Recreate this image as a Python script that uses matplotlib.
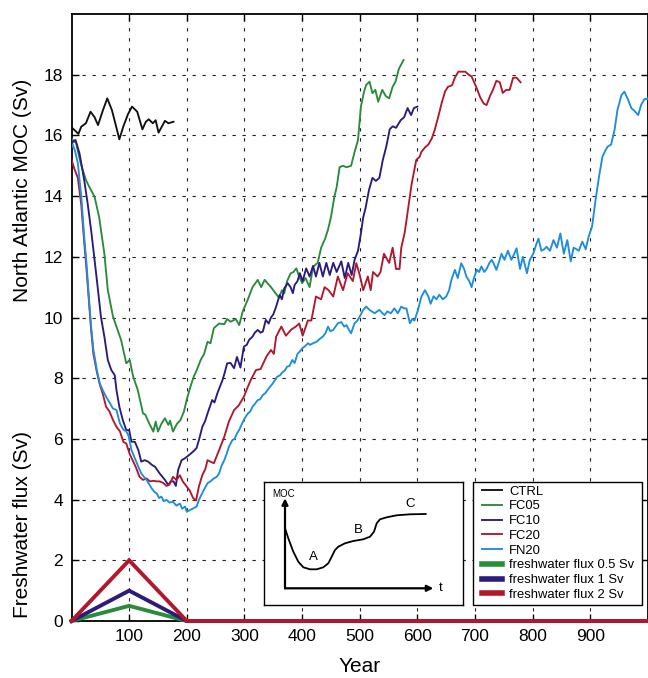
import matplotlib
matplotlib.use("Agg")
import matplotlib.pyplot as plt
from matplotlib.patches import Rectangle

plt.rcParams['font.family'] = ['Liberation Sans', 'DejaVu Sans']

# ---------------- MOC time series (Sv) ----------------
ctrl_year = [0, 12, 17, 25, 33, 40, 46, 54, 62, 70, 76, 83, 90, 98, 105, 114, 123, 129, 134, 141, 146, 151, 157, 162, 168, 177]
ctrl_moc = [16.27, 16.05, 16.29, 16.4, 16.78, 16.6, 16.34, 16.8, 17.22, 16.84, 16.4, 15.87, 16.3, 16.7, 16.95, 16.78, 16.2, 16.45, 16.53, 16.4, 16.5, 16.09, 16.3, 16.48, 16.4, 16.45]

fc05_year = [0, 8, 16, 25, 31, 40, 48, 57, 63, 72, 80, 86, 95, 101, 107, 115, 124, 128, 135, 142, 146, 150, 156, 162, 168, 171, 176, 183, 189, 195,
             200, 206, 212, 218, 224, 230, 236, 241, 247, 256, 265, 270, 276, 285, 291, 297, 306, 314, 323, 329, 335, 340, 346, 352, 360, 365,
             369, 374, 380, 385, 390, 395, 400, 406, 413, 419, 427, 433, 440, 445, 450, 456, 460, 465, 471, 477, 485, 491, 497, 502, 507, 511,
             517, 522, 527, 532, 539, 545, 551, 557, 562, 568, 576]
fc05_moc = [15.9, 15.74, 15.08, 14.53, 14.3, 13.98, 13.3, 12.1, 10.9, 10.03, 9.59, 9.26, 8.49, 8.6, 8.05, 7.61, 6.84, 6.8, 6.5, 6.24, 6.57, 6.24, 6.5, 6.68, 6.46, 6.6, 6.24, 6.5, 6.62, 6.9,
            7.3, 7.7, 8.05, 8.3, 8.6, 8.8, 9.2, 9.15, 9.65, 9.8, 9.78, 9.95, 9.86, 9.95, 9.75, 10.2, 10.6, 11.0, 11.24, 11.0, 11.24, 11.13, 11.0, 10.85, 10.65, 10.9,
            10.8, 11.2, 11.45, 11.5, 11.62, 11.35, 11.13, 11.3, 11.0, 11.67, 11.8, 12.3, 12.6, 12.9, 13.3, 13.98, 14.3, 14.95, 15.0, 14.95, 15.0, 15.45, 15.85, 16.95, 17.4, 17.66,
            17.77, 17.39, 17.5, 17.11, 17.5, 17.3, 17.22, 17.6, 17.77, 18.2, 18.48]

fc10_year = [0, 3, 7, 14, 22, 28, 34, 40, 46, 51, 57, 63, 69, 75, 78, 83, 89, 95, 100, 104, 110, 116, 121, 127, 133, 139, 145, 153, 162, 168, 172, 177, 181,
             185, 191, 196, 200, 206, 212, 217, 221, 227, 232, 236, 244, 248, 253, 257, 262, 266, 270, 276, 282, 287, 293, 299, 304, 308, 314, 318, 323,
             328, 332, 337, 342, 346, 350, 355, 361, 365, 369, 375, 380, 384, 387, 392, 396, 401, 407, 413, 419, 424, 430, 436, 442, 448, 454, 460,
             468, 474, 480, 486, 491, 497, 502, 506, 510, 516, 522, 528, 534, 540, 546, 552, 557, 563, 571, 577, 583, 589, 594, 600]
fc10_moc = [15.7, 15.8, 15.85, 15.4, 14.53, 13.76, 12.88, 11.9, 10.9, 10.03, 9.37, 8.6, 8.27, 8.1, 7.61, 7.06, 6.62, 6.29, 6.29, 5.91, 5.9, 5.63, 5.25, 5.3, 5.25, 5.15, 5.08, 4.86, 4.65, 4.48, 4.6, 4.6, 4.45,
            4.98, 5.3, 5.35, 5.41, 5.5, 5.6, 5.7, 5.96, 6.4, 6.6, 6.84, 7.28, 7.2, 7.5, 7.7, 7.94, 8.2, 8.49, 8.5, 8.33, 8.7, 8.35, 9.04, 9.1, 9.26, 9.37, 9.5, 9.59,
            9.5, 9.54, 9.92, 9.8, 10.0, 10.1, 10.36, 10.74, 10.6, 10.96, 11.13, 11.0, 10.8, 11.07, 11.2, 11.46, 11.2, 11.62, 11.35, 11.7, 11.35, 11.8, 11.35, 11.8, 11.4, 11.8, 11.5,
            11.85, 11.3, 11.8, 11.4, 11.9, 12.2, 12.77, 13.3, 13.6, 14.2, 14.6, 14.5, 14.6, 15.19, 15.63, 16.2, 16.3, 16.25, 16.5, 16.6, 16.9, 16.67, 16.9, 16.95]

fc20_year = [0, 5, 11, 17, 22, 26, 30, 34, 38, 44, 49, 54, 60, 66, 72, 78, 84, 90, 95, 101, 106, 112, 118, 124, 130, 136, 142, 148, 153, 159, 165, 170, 176, 182,
             188, 193, 199, 205, 211, 216, 221, 227, 232, 236, 241, 247, 256, 265, 273, 282, 290, 299, 306, 311, 320, 328, 338, 346, 351, 355, 364,
             372, 381, 389, 395, 401, 410, 416, 424, 433, 439, 446, 454, 462, 471, 479, 488, 494, 500, 506, 514, 519, 523, 531, 536, 542, 551, 557,
             563, 569, 572, 578, 584, 590, 598, 604, 607, 613, 619, 625, 630, 636, 642, 648, 653, 660, 665, 671, 677, 683, 689, 694, 702, 709,
             715, 720, 726, 731, 737, 743, 748, 754, 760, 766, 772, 779]
fc20_moc = [15.2, 14.9, 14.6, 13.7, 12.5, 11.6, 10.6, 9.6, 8.8, 8.2, 7.8, 7.5, 7.06, 6.9, 6.62, 6.4, 6.25, 5.9, 5.85, 5.5, 5.3, 5.05, 4.75, 4.65, 4.7, 4.6, 4.62, 4.6, 4.6, 4.55, 4.45, 4.5, 4.75, 4.65,
            4.8, 4.6, 4.45, 4.3, 4.05, 3.97, 4.43, 4.81, 5.0, 5.3, 5.25, 5.2, 5.63, 6.07, 6.57, 6.95, 7.1, 7.39, 7.72, 7.94, 8.27, 8.3, 8.71, 8.93, 8.8, 9.37, 9.7,
            9.4, 9.6, 9.7, 9.8, 9.4, 9.9, 9.9, 10.69, 10.6, 11.0, 10.9, 10.69, 11.35, 10.9, 11.46, 11.2, 11.79, 11.4, 10.9, 11.35, 10.9, 11.5, 11.35, 11.5, 12.1, 11.8, 12.3,
            11.6, 11.6, 12.3, 12.8, 13.6, 14.4, 15.19, 15.3, 15.46, 15.6, 15.7, 15.9, 16.18, 16.6, 17.06, 17.45, 17.6, 17.65, 17.9, 18.1, 18.1, 18.1, 18.0, 17.94, 17.6, 17.25,
            17.05, 17.0, 17.3, 17.5, 17.8, 17.75, 17.4, 17.5, 17.5, 17.9, 17.9, 17.75]

fn20_year = [0, 2, 6, 11, 17, 22, 26, 30, 34, 38, 44, 49, 54, 60, 66, 72, 78, 84, 90, 95, 99, 104, 110, 116, 121, 130, 135, 139, 144, 148, 152, 156, 160, 165,
             170, 176, 182, 188, 192, 197, 200, 206, 211, 217, 221, 229, 236, 241, 247, 252, 256, 260, 265, 269, 273, 279, 283, 287, 291, 296, 301,
             306, 310, 314, 318, 323, 327, 332, 336, 340, 348, 357, 362, 366, 370, 374, 378, 383, 387, 392, 397, 401, 405, 410, 414, 419, 425, 431,
             436, 441, 445, 449, 454, 458, 462, 468, 473, 477, 481, 485, 491, 496, 500, 506, 511, 517, 521, 526, 530, 534, 539, 543, 548, 554, 560,
             566, 572, 577, 581, 587, 591, 595, 601, 607, 613, 619, 623, 628, 633, 638, 644, 650, 655, 659, 665, 670, 676, 681, 685, 690, 694, 698,
             703, 707, 711, 716, 720, 725, 729, 733, 737, 741, 746, 751, 757, 763, 768, 772, 778, 783, 790, 795, 801, 806, 810, 815, 820, 824, 830,
             836, 842, 848, 854, 860, 866, 871, 876, 880, 886, 892, 897, 903, 909, 915, 921, 926, 930, 936, 942, 947, 954, 959, 965, 971, 977, 983,
             988, 994, 1000, 1006]
fn20_moc = [15.6, 15.7, 15.5, 15.08, 13.98, 12.66, 11.79, 10.69, 9.7, 8.93, 8.27, 7.83, 7.61, 7.39, 7.2, 7.0, 6.95, 6.51, 6.3, 6.25, 6.1, 5.63, 5.36, 5.08, 4.86, 4.65, 4.5, 4.37, 4.25, 4.2, 4.05, 4.1, 3.95, 3.99,
            3.9, 3.93, 3.8, 3.87, 3.7, 3.77, 3.6, 3.66, 3.71, 3.77, 3.99, 4.3, 4.54, 4.6, 4.7, 4.75, 4.86, 5.1, 5.3, 5.5, 5.74, 5.96, 6.0, 6.18, 6.3, 6.51, 6.7,
            6.84, 6.9, 7.06, 7.15, 7.28, 7.3, 7.45, 7.5, 7.61, 7.8, 8.05, 8.1, 8.2, 8.25, 8.38, 8.4, 8.6, 8.5, 8.8, 8.9, 9.0, 9.05, 9.15, 9.1, 9.15, 9.2, 9.3,
            9.37, 9.5, 9.7, 9.55, 9.59, 9.7, 9.81, 9.85, 9.7, 9.75, 9.6, 9.48, 9.81, 9.9, 10.03, 10.25, 10.36, 10.25, 10.2, 10.14, 10.2, 10.25, 10.15, 10.08, 10.2, 10.14, 10.3,
            10.14, 10.36, 10.3, 10.3, 9.81, 9.95, 9.9, 10.25, 10.69, 10.9, 10.69, 10.45, 10.7, 10.6, 10.75, 10.6, 10.69, 10.9, 11.24, 11.57, 11.3, 11.79, 11.6, 11.35, 11.2, 11.0, 11.3,
            11.57, 11.5, 11.68, 11.5, 11.6, 11.8, 11.9, 11.75, 11.57, 11.8, 12.1, 11.9, 12.2, 11.9, 12.1, 12.28, 11.6, 12.0, 11.46, 11.9, 12.1, 12.4, 12.6, 12.2, 12.25, 12.33, 12.2,
            12.55, 12.3, 12.77, 12.1, 12.55, 11.85, 12.3, 12.25, 12.2, 12.5, 12.25, 12.66, 13.0, 13.87, 14.64, 15.3, 15.5, 15.63, 15.7, 16.18, 16.84, 17.33, 17.44, 17.2, 16.9, 16.8, 16.67,
            17.0, 17.2, 17.2, 17.6]

# ---------------- Freshwater forcing (Sv) ----------------
flux_year = [0, 100, 200, 1000]
flux_05 = [0, 0.5, 0, 0]
flux_1 = [0, 1.0, 0, 0]
flux_2 = [0, 2.0, 0, 0]

# ---------------- Schematic of the MOC recovery (arbitrary units) ----------------
sketch_t = [0, 0.33, 0.83, 1.33, 1.83, 2.5, 3.17, 3.83, 4.33, 4.67, 5.0, 5.33, 6.0, 6.83, 7.83, 8.5, 8.9, 9.17, 9.5, 10.17, 11.17, 12.5, 14.07]
sketch_moc = [6.0, 5.0, 3.66, 2.66, 2.1, 1.9, 1.9, 2.1, 2.5, 3.16, 3.83, 4.16, 4.5, 4.73, 4.9, 5.16, 5.66, 6.5, 6.9, 7.1, 7.3, 7.4, 7.43]
phase_labels = ['A', 'B', 'C']
phase_t = [2.83, 7.33, 12.5]
phase_moc = [3.1, 5.83, 8.43]

x_ticks = [100, 200, 300, 400, 500, 600, 700, 800, 900]
y_ticks = [0, 2, 4, 6, 8, 10, 12, 14, 16, 18]

C_CTRL = '#111111'
C_05 = '#2a8b3b'
C_10 = '#2b1b7c'
C_20 = '#b2182b'
C_N20 = '#1e8ddb'

W, H = 648, 678
fig = plt.figure(figsize=(W / 100, H / 100), dpi=100)
ax = fig.add_axes([71.5 / W, 1 - 621 / H, 576.5 / W, 607 / H])

lw = 1.35
ax.plot(ctrl_year, ctrl_moc, color=C_CTRL, lw=lw, label='CTRL', zorder=3)
ax.plot(fc05_year, fc05_moc, color=C_05, lw=lw, label='FC05', zorder=3)
ax.plot(fc10_year, fc10_moc, color=C_10, lw=lw, label='FC10', zorder=3)
ax.plot(fc20_year, fc20_moc, color=C_20, lw=lw, label='FC20', zorder=3)
ax.plot(fn20_year, fn20_moc, color=C_N20, lw=lw, label='FN20', zorder=3)

flw = 2.8
ax.plot(flux_year, flux_05, color=C_05, lw=flw, label='freshwater flux 0.5 Sv', zorder=4, clip_on=False, solid_joinstyle='miter')
ax.plot(flux_year, flux_1, color=C_10, lw=flw, label='freshwater flux 1 Sv', zorder=4, clip_on=False, solid_joinstyle='miter')
ax.plot(flux_year, flux_2, color=C_20, lw=flw, label='freshwater flux 2 Sv', zorder=4, clip_on=False, solid_joinstyle='miter')

ax.set_xlim(0, 1000)
ax.set_ylim(0, 20)
ax.set_xticks(x_ticks)
ax.set_yticks(y_ticks)
ax.tick_params(direction='in', length=5, width=1, top=True, right=True, labelsize=12.5, pad=6)
ax.grid(True, color='#222222', lw=0.8, linestyle=(0, (3, 6)))
for s in ax.spines.values():
    s.set_linewidth(1.3)

ax.set_xlabel('Year', fontsize=15)
ax.xaxis.set_label_coords(0.5, -0.06)
ax.text(23 / W, 1 - 190 / H, 'North Atlantic MOC (Sv)', transform=fig.transFigure,
        rotation=90, ha='center', va='center', fontsize=15)
ax.text(23 / W, 1 - 525 / H, 'Freshwater flux (Sv)', transform=fig.transFigure,
        rotation=90, ha='center', va='center', fontsize=15)

# legend with a hand-placed frame
frame = Rectangle((473.3 / W, 1 - 605 / H), (642.3 - 473.3) / W, (605 - 482) / H,
                  transform=fig.transFigure, facecolor='white', edgecolor='black', lw=1.0, zorder=5)
ax.add_patch(frame)
leg = ax.legend(loc='upper left', bbox_to_anchor=(481.7 / W, 1 - 485.5 / H), bbox_transform=fig.transFigure,
                frameon=False, fontsize=9.4, borderpad=0, borderaxespad=0, labelspacing=0.2,
                handlelength=1.58, handletextpad=0.53)
leg.set_zorder(6)
for line in leg.get_lines()[5:]:
    line.set_linewidth(4.0)

# inset schematic
ins = fig.add_axes([264 / W, 1 - 605 / H, 199.3 / W, 123.3 / H], zorder=7)
ins.set_facecolor('white')
ins.set_xlim(-2.1, 17.83)
ins.set_ylim(-1.67, 10.66)
ins.set_xticks([])
ins.set_yticks([])
for s in ins.spines.values():
    s.set_linewidth(1.0)
ins.annotate('', xy=(0, 9.0), xytext=(0, 0),
             arrowprops=dict(arrowstyle='-|>', lw=1.6, color='black', mutation_scale=9, shrinkA=0, shrinkB=0))
ins.annotate('', xy=(14.83, 0), xytext=(0, 0),
             arrowprops=dict(arrowstyle='-|>', lw=1.6, color='black', mutation_scale=9, shrinkA=0, shrinkB=0))
ins.plot(sketch_t, sketch_moc, color='black', lw=1.3)
for lab, tt, mm in zip(phase_labels, phase_t, phase_moc):
    ins.text(tt, mm, lab, ha='center', va='center', fontsize=9.5)
ins.text(-0.1, 9.43, 'MOC', ha='center', va='center', fontsize=7)
ins.text(15.55, 0.05, 't', ha='center', va='center', fontsize=9.5)

fig.savefig('out.png', dpi=100)
